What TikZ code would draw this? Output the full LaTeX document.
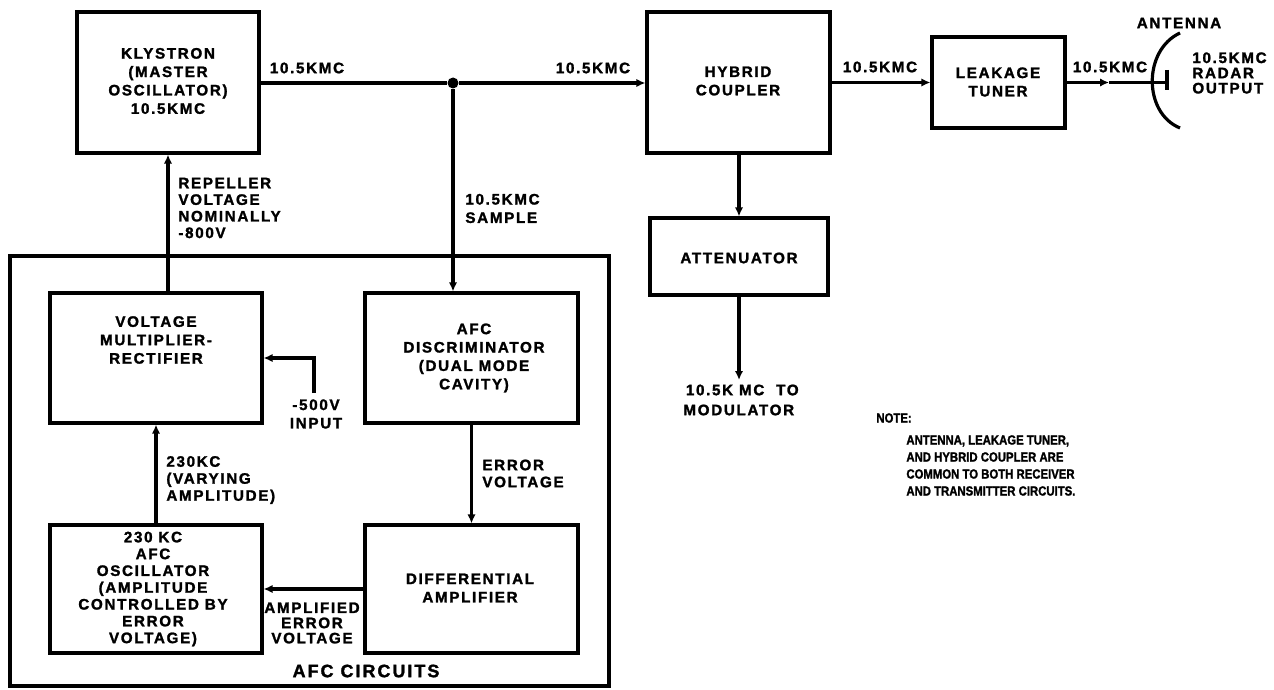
\documentclass[tikz,border=0pt]{standalone}
\usepackage{fontspec}
\setmainfont{Liberation Sans}[LetterSpace=11, BoldFeatures={FakeBold=1.6}]
\newfontfamily\notefont{Liberation Sans}[FakeStretch=0.86, BoldFeatures={FakeBold=1.6}]
\usetikzlibrary{arrows.meta,fit}
\begin{document}
\begin{tikzpicture}[x=0.5pt,y=-0.5pt,
  every node/.style={font=\bfseries\fontsize{7.6}{9.2}\selectfont, align=center, inner sep=0pt},
  box/.style={draw, rectangle, line width=1.6pt, inner sep=0pt},
  ln/.style={line width=1.6pt},
  arr/.style={ln, -{Latex[length=4.5pt,width=4.2pt]}},
  dot/.style={circle, fill, inner sep=0pt, minimum size=5.5pt},
  lbl/.style={anchor=west, align=left},
  tight/.style={font=\bfseries\fontsize{7.6}{8.4}\selectfont},
  notes/.style={font=\notefont\bfseries\fontsize{6.6}{8.5}\selectfont, anchor=west, align=left}]
\useasboundingbox (0,0) rectangle (1274,690);
% boxes
\node[box, fit={(77,12)(259,153)}] (kly) {};
\node (klyt) at (168,81) {KLYSTRON\\(MASTER\\OSCILLATOR)\\10.5KMC};
\node[box, fit={(647,12)(830,153)}] (hyb) {};
\node (hybt) at (738,81) {HYBRID\\COUPLER};
\node[box, fit={(932,37)(1065,128)}] (leak) {};
\node (leakt) at (998,82) {LEAKAGE\\TUNER};
\node[box, fit={(650,218)(828,295)}] (att) {};
\node (attt) at (739,258) {ATTENUATOR};
\node[box, fit={(10,256)(609,686)}] (afc) {};
\node[font=\bfseries\fontsize{9}{10}\selectfont] (afct) at (366,671) {AFC CIRCUITS};
\node[box, fit={(50,293)(262,423)}] (vm) {};
\node (vmt) at (156,340) {VOLTAGE\\MULTIPLIER-\\RECTIFIER};
\node[box, fit={(365,293)(578,423)}] (disc) {};
\node (disct) at (474,358) {AFC\\DISCRIMINATOR\\(DUAL MODE\\CAVITY)};
\node[box, fit={(50,525)(262,653)}] (osc) {};
\node[tight] (osct) at (153,589) {230 KC\\AFC\\OSCILLATOR\\(AMPLITUDE\\CONTROLLED BY\\ERROR\\VOLTAGE)};
\node[box, fit={(365,525)(578,653)}] (diff) {};
\node (difft) at (470,588) {DIFFERENTIAL\\AMPLIFIER};
% junction
\node[dot] (J) at (453,83) {};
% connectors
\draw[ln] (kly.east |- J) -- (J);
\draw[arr] (J) -- (hyb.west |- J);
\draw[arr] (J) -- (J |- disc.north);
\draw[arr] (att.north |- hyb.south) -- (att.north);
\draw[arr] (hyb.east |- leak.west) -- (leak.west);
\coordinate (amid) at (1109,82.5);
\coordinate (afeed) at (1167,82.5);
\draw[arr] (leak.east) -- (amid);
\draw[ln] (amid) -- (afeed);
\coordinate (tt) at (1167,70);
\coordinate (tb) at (1167,90);
\draw[ln] (tt) -- (tb);
\coordinate (at) at (1180,33);
\coordinate (ab) at (1180,128);
\draw[ln] (at) .. controls (1143,50) and (1143,113) .. (ab);
\coordinate (modend) at (739,380);
\draw[arr] (att.south) -- (modend);
\draw[arr] (kly.south |- vm.north) -- (kly.south);
\coordinate (p500) at (314,393);
\draw[arr] (p500) |- (vm.east);
\draw[arr] (osc.north) -- (vm.south);
\draw[arr] (disc.south) -- (diff.north);
\draw[arr] (diff.west) -- (osc.east);
% labels
\node (l1) at (307,68) {10.5KMC};
\node (l2) at (593,68) {10.5KMC};
\node (l3) at (880,67) {10.5KMC};
\node (l4) at (1110,67) {10.5KMC};
\node (ant) at (1179,23) {ANTENNA};
\node[lbl, font=\bfseries\fontsize{7.6}{7.6}\selectfont] (radar) at (1192,73) {10.5KMC\\RADAR\\OUTPUT};
\node[lbl, font=\bfseries\fontsize{7.6}{8.3}\selectfont] (rep) at (178,208) {REPELLER\\VOLTAGE\\NOMINALLY\\-800V};
\node[lbl] (samp) at (465,208.5) {10.5KMC\\SAMPLE};
\node (inp) at (316,414) {-500V\\INPUT};
\node[lbl, font=\bfseries\fontsize{7.6}{8.5}\selectfont] (kc) at (166,480) {230KC\\(VARYING\\AMPLITUDE)};
\node[lbl, font=\bfseries\fontsize{7.6}{8.5}\selectfont] (err) at (482,473.5) {ERROR\\VOLTAGE};
\node[font=\bfseries\fontsize{7.6}{7.6}\selectfont] (amp) at (312,623) {AMPLIFIED\\ERROR\\VOLTAGE};
\node[lbl, font=\bfseries\fontsize{7.6}{10}\selectfont] (mod) at (683,400) {\,10.5K MC \ TO\\MODULATOR};
\node[notes] (note) at (876,418) {NOTE:};
\node[notes] (notebody) at (906,465.5) {ANTENNA, LEAKAGE TUNER,\\AND HYBRID COUPLER ARE\\COMMON TO BOTH RECEIVER\\AND TRANSMITTER CIRCUITS.};
\end{tikzpicture}
\end{document}
